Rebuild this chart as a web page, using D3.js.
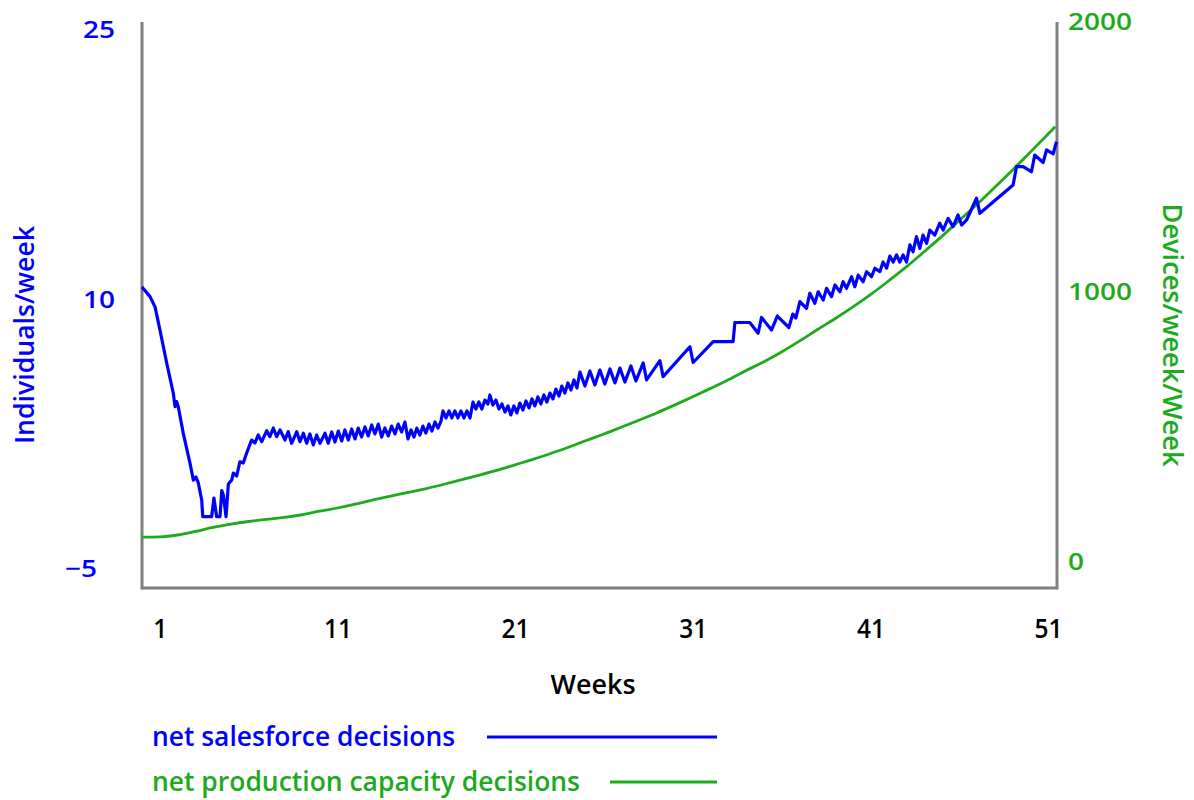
<!DOCTYPE html>
<html><head><meta charset="utf-8">
<script src="https://cdn.jsdelivr.net/npm/d3@7"></script>
<style>body{margin:0;background:#fff} svg{display:block}</style>
</head><body>
<svg id="chart" width="1194" height="800"></svg>
<script>
// ---------- data ----------
const weekTicks = [1, 11, 21, 31, 41, 51];
const leftTicks = [-5, 10, 25];
const rightTicks = [0, 1000, 2000];
const seriesNames = ["net salesforce decisions", "net production capacity decisions"];
const xTitle = "Weeks";
const leftTitle = "Individuals/week";
const rightTitle = "Devices/week/Week";

const salesWeeks = [0,0.45,0.73,1.01,1.39,1.76,1.86,1.95,2.04,2.32,2.70,2.89,3.04,3.17,3.36,3.42,3.92,4.05,4.20,4.39,4.49,4.58,4.73,4.86,5.05,5.14,5.33,5.51,5.70,5.89,6.17,6.36,6.54,6.74,7.02,7.20,7.39,7.58,7.77,8.05,8.23,8.42,8.71,8.89,9.08,9.27,9.45,9.64,9.83,10.02,10.30,10.48,
10.68,10.86,11.05,11.24,11.42,11.61,11.80,11.99,12.17,12.36,12.55,12.73,12.93,13.11,13.30,13.49,13.67,13.86,14.05,14.24,14.42,14.61,14.80,14.97,15.14,15.31,15.47,15.64,15.81,15.98,16.15,16.32,16.49,16.66,16.83,16.94,17.11,17.28,17.44,17.61,17.78,17.95,18.12,18.29,18.46,18.63,18.79,18.96,19.13,19.30,19.47,19.58,19.75,19.92,20.09,20.26,20.43,20.60,20.76,20.93,21.10,21.27,21.44,21.61,21.78,21.95,22.11,22.28,22.45,22.62,22.79,22.96,23.13,23.30,23.47,23.63,23.80,23.97,24.14,24.31,24.48,
24.65,24.93,25.21,25.49,25.77,26.05,26.34,26.62,26.90,27.18,27.52,27.80,28.21,28.40,29.15,29.33,30.84,31.02,32.15,33.27,33.37,34.21,34.68,34.87,35.43,35.76,36.41,36.63,36.80,37.03,37.40,37.59,37.87,38.06,38.34,38.53,38.81,39.00,39.28,39.46,39.65,39.94,40.12,40.31,40.59,40.78,41.06,41.25,41.53,41.71,41.91,42.09,42.28,42.47,42.65,42.84,43.03,43.22,43.40,43.59,43.78,43.96,44.16,44.34,44.62,44.90,45.09,45.37,45.65,45.93,46.13,46.41,46.97,47.16,49.03,49.22,49.59,50.06,50.25,50.72,50.91,51.28,51.47];

const salesValues = [10.70,10.16,9.60,8.30,6.46,4.79,4.03,4.31,4.03,2.56,0.89,-0.06,0.11,-0.22,-1.17,-2.10,-2.10,-1.06,-2.10,-2.10,-0.65,-0.89,-2.10,-0.28,-0.06,0.33,0.17,0.96,0.89,1.45,2.17,2.01,2.45,2.08,2.69,2.36,2.84,2.36,2.73,2.17,2.64,1.99,2.64,2.08,2.55,1.99,2.51,1.90,2.45,1.99,2.55,1.99,
2.62,2.06,2.67,2.12,2.73,2.17,2.79,2.23,2.84,2.34,2.90,2.40,3.01,2.51,3.06,2.34,2.84,2.40,2.95,2.51,3.06,2.62,3.18,2.23,2.73,2.34,2.84,2.45,2.95,2.56,3.06,2.67,3.18,2.84,3.23,3.79,3.40,3.79,3.40,3.79,3.40,3.79,3.40,3.79,3.40,4.29,3.90,4.29,3.90,4.40,4.18,4.68,4.12,4.40,3.90,4.18,3.73,4.07,3.57,4.07,3.68,4.23,3.84,4.35,3.96,4.46,4.07,4.57,4.18,4.68,4.29,4.79,4.46,5.01,4.62,5.18,4.79,5.35,4.96,5.52,5.07,
5.96,5.18,6.02,5.24,6.07,5.29,6.13,5.35,6.18,5.40,6.30,5.46,6.47,5.52,6.59,5.70,7.37,6.49,7.65,7.65,8.72,8.72,8.12,9.00,8.30,9.08,8.44,9.19,8.97,9.88,9.51,10.35,9.79,10.43,9.97,10.62,10.16,10.81,10.43,10.99,10.62,11.27,10.71,11.36,10.99,11.55,11.27,11.74,11.55,12.09,11.75,12.42,12.09,12.48,12.09,12.48,12.09,13.04,12.66,13.50,12.85,13.59,13.13,13.87,13.59,14.25,13.87,14.52,14.06,14.71,14.15,14.43,15.64,14.80,16.38,17.40,17.40,17.12,18.05,17.63,18.33,18.11,18.79];

const capacityWeeks = [0,1,2,3,4,5,6,7,8,9,10,11,12,13,14,15,16,17,18,19,20,21,22,23,24,25,26,27,28,29,30,31,32,33,34,35,36,37,38,39,40,41,42,43,44,45,46,47,48,49,50,51,51.4];
const capacityValues = [92,93,100,113,128,140,150,158,165,175,188,200,214,230,244,258,272,288,305,322,340,360,380,402,425,450,474,500,526,553,582,612,643,675,709,742,778,818,860,901,944,990,1040,1092,1148,1205,1265,1325,1388,1452,1518,1585,1612];

// ---------- drawing ----------
const BLUE = "#0000ff", GREEN = "#1daa1d", GRAY = "#808080";
const svg = d3.select("#chart");
const frameTop = 22, frameBottom = 588;

const x = d3.scaleLinear().domain([0, 51.5]).range([142, 1057]);
const yL = d3.scaleLinear().domain([-5, 25]).range([568.75, 30.25]);
const yR = d3.scaleLinear().domain([0, 2000]).range([562, 22]);

const font = "'Open Sans', 'Liberation Sans', Arial, sans-serif";

function fitText(sel, perChar) {
  sel.each(function () {
    d3.select(this).attr("textLength", this.textContent.length * perChar)
      .attr("lengthAdjust", "spacingAndGlyphs");
  });
}

// left axis labels
const gL = svg.append("g").attr("transform", `translate(${x.range()[0]},0)`)
  .call(d3.axisLeft(yL).tickValues(leftTicks).tickSize(0).tickPadding(27));
gL.select(".domain").remove();
gL.selectAll("text").attr("fill", BLUE).style("font-family", font).style("font-size", "24px").style("font-weight", 600)
  .attr("dx", d => d < 0 ? -18 : 0).call(fitText, 16);

// right axis labels
const gR = svg.append("g").attr("transform", `translate(${x.range()[1]},0)`)
  .call(d3.axisRight(yR).tickValues(rightTicks).tickSize(0).tickPadding(11).tickFormat(d3.format("d")));
gR.select(".domain").remove();
gR.selectAll("text").attr("fill", GREEN).style("font-family", font).style("font-size", "24px").style("font-weight", 600).call(fitText, 16);

// bottom axis labels
const gB = svg.append("g").attr("transform", `translate(0,${frameBottom})`)
  .call(d3.axisBottom(x).tickValues(weekTicks).tickSize(0).tickPadding(31).tickFormat(d3.format("d")));
gB.select(".domain").remove();
gB.selectAll("text").attr("fill", "#000").style("font-family", font).style("font-size", "27px").style("font-weight", 600).call(fitText, 14);

// frame lines
const frame = svg.append("g").attr("stroke", GRAY).attr("stroke-width", 3).attr("fill", "none");
frame.append("line").attr("x1", x.range()[0]).attr("x2", x.range()[0]).attr("y1", frameTop).attr("y2", frameBottom + 1.5);
frame.append("line").attr("x1", x.range()[1]).attr("x2", x.range()[1]).attr("y1", frameTop).attr("y2", frameBottom + 1.5);
frame.append("line").attr("x1", x.range()[0]).attr("x2", x.range()[1]).attr("y1", frameBottom).attr("y2", frameBottom);

// series
const capData = capacityWeeks.map((w, i) => [w, capacityValues[i]]);
const salesData = salesWeeks.map((w, i) => [w, salesValues[i]]);

svg.append("path").datum(capData)
  .attr("fill", "none").attr("stroke", GREEN).attr("stroke-width", 2.8)
  .attr("d", d3.line().x(d => x(d[0])).y(d => yR(d[1])).curve(d3.curveMonotoneX));

svg.append("path").datum(salesData)
  .attr("fill", "none").attr("stroke", BLUE).attr("stroke-width", 3.2).attr("stroke-linejoin", "round")
  .attr("d", d3.line().x(d => x(d[0])).y(d => yL(d[1])));

// axis titles
svg.append("text").attr("transform", "translate(25,335) rotate(-90)")
  .attr("text-anchor", "middle").attr("dy", "0.35em")
  .attr("fill", BLUE).style("font-family", font).style("font-size", "27px").style("font-weight", 600)
  .attr("textLength", 218).attr("lengthAdjust", "spacingAndGlyphs").text(leftTitle);

svg.append("text").attr("transform", "translate(1172,335) rotate(90)")
  .attr("text-anchor", "middle").attr("dy", "0.35em")
  .attr("fill", GREEN).style("font-family", font).style("font-size", "27px").style("font-weight", 600)
  .attr("textLength", 263).attr("lengthAdjust", "spacingAndGlyphs").text(rightTitle);

svg.append("text").attr("x", 593).attr("y", 694).attr("text-anchor", "middle")
  .attr("fill", "#000").style("font-family", font).style("font-size", "27px").style("font-weight", 600)
  .attr("textLength", 85).attr("lengthAdjust", "spacingAndGlyphs").text(xTitle);

// legend
const legend = [
  {name: seriesNames[0], color: BLUE, textW: 303, lineX1: 487, y: 737},
  {name: seriesNames[1], color: GREEN, textW: 428, lineX1: 610, y: 782}
];
legend.forEach(l => {
  svg.append("text").attr("x", 152).attr("y", l.y + 9).attr("fill", l.color)
    .style("font-family", font).style("font-size", "27px").style("font-weight", 600)
    .attr("textLength", l.textW).attr("lengthAdjust", "spacingAndGlyphs").text(l.name);
  svg.append("line").attr("x1", l.lineX1).attr("x2", 717).attr("y1", l.y).attr("y2", l.y)
    .attr("stroke", l.color).attr("stroke-width", 3);
});
</script>
</body></html>
